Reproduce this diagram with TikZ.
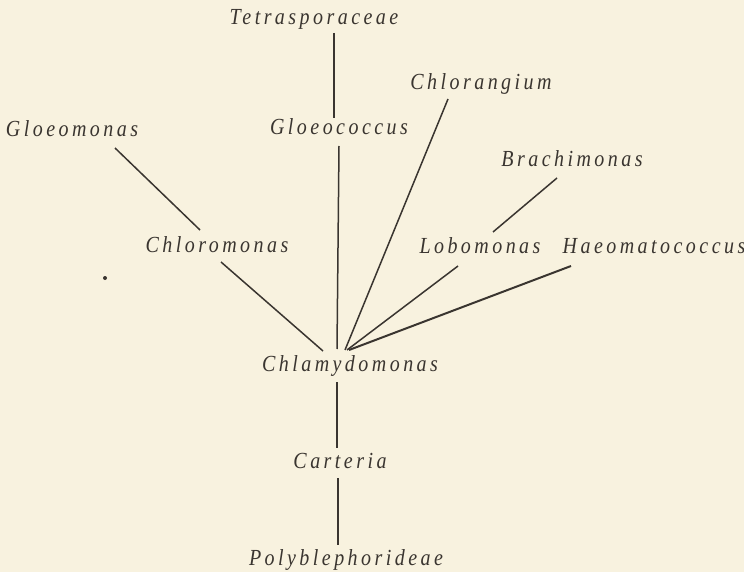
\documentclass[tikz,border=0pt]{standalone}
\usepackage{fontspec}
\setmainfont{Liberation Serif}[LetterSpace=15, FakeStretch=0.87]
\definecolor{paper}{HTML}{F8F2DF}
\definecolor{ink}{HTML}{3A3530}
\tikzset{
  taxon/.style={anchor=base, inner sep=0pt, text=ink, font=\fontsize{23}{26}\selectfont\itshape},
  branch/.style={draw=ink, line width=1.5pt},
}
\begin{document}
\begin{tikzpicture}[x=1pt,y=-1pt]
\fill[paper] (0,0) rectangle (744,572);
\useasboundingbox (0,0) rectangle (744,572);
% labels
\node[taxon] (tet) at (314,25) {Tetrasporaceae};
\node[taxon] (glc) at (339,135) {Gloeococcus};
\node[taxon] (chg) at (481,90) {Chlorangium};
\node[taxon] (glm) at (72,137) {Gloeomonas};
\node[taxon] (bra) at (572,167) {Brachimonas};
\node[taxon] (chm) at (217,252) {Chloromonas};
\node[taxon] (lob) at (480,253) {Lobomonas};
\node[taxon] (hae) at (654,253) {Haeomatococcus};
\node[taxon] (cla) at (350,371) {Chlamydomonas};
\node[taxon] (car) at (340,468) {Carteria};
\node[taxon] (pol) at (346,565) {Polyblephorideae};
% connector ends
\coordinate (tetB) at (334,33);   \coordinate (glcT) at (334,118);
\coordinate (glcB) at (339,146);  \coordinate (claT1) at (337,349);
\coordinate (glmB) at (115,148);  \coordinate (chmT) at (200,230);
\coordinate (chmB) at (221,262);  \coordinate (claT2) at (323,351);
\coordinate (chgB) at (448,99);   \coordinate (claT3) at (345,350);
\coordinate (braB) at (557,178);  \coordinate (lobT) at (493,232);
\coordinate (lobB) at (458,266);  \coordinate (claT4) at (347,350);
\coordinate (haeB) at (571,266);  \coordinate (claT5) at (349,350);
\coordinate (claB) at (337,382);  \coordinate (carT) at (337,448);
\coordinate (carB) at (338,478);  \coordinate (polT) at (338,545);
% connectors
\draw[branch] (tetB) -- (glcT);
\draw[branch] (glcB) -- (claT1);
\draw[branch] (glmB) -- (chmT);
\draw[branch] (chmB) -- (claT2);
\draw[branch] (chgB) -- (claT3);
\draw[branch] (braB) -- (lobT);
\draw[branch] (lobB) -- (claT4);
\draw[branch, line width=2pt] (haeB) -- (claT5);
\draw[branch] (claB) -- (carT);
\draw[branch] (carB) -- (polT);
% stray dot
\fill[ink] (105,278) circle (2);
\end{tikzpicture}
\end{document}
